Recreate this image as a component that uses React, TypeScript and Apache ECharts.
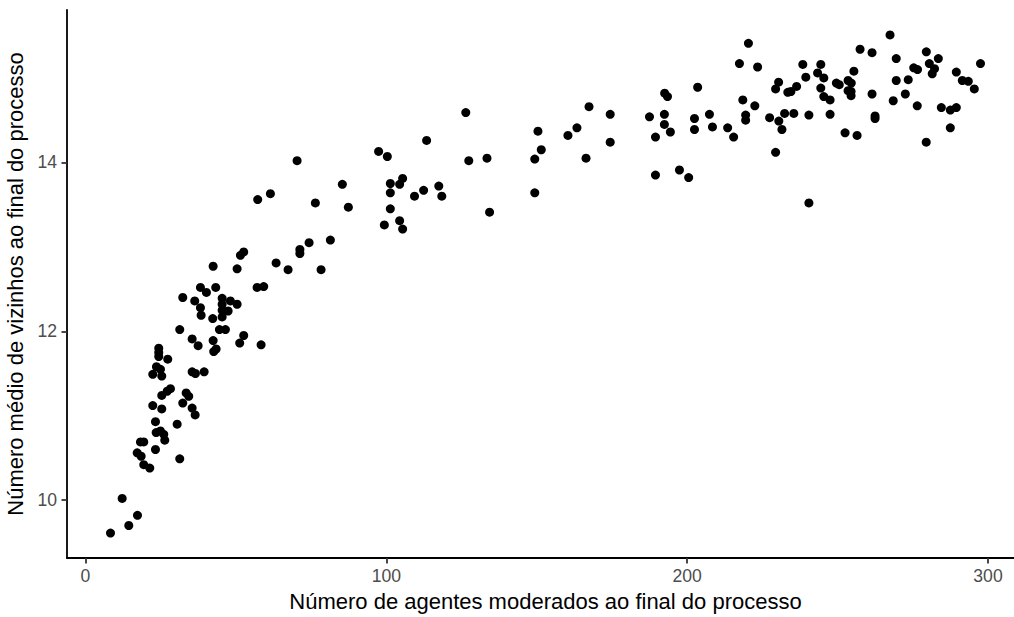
import React, { useEffect, useRef } from "react";
import * as echarts from "echarts";

const xTicks = [0, 100, 200, 300];
const yTicks = [10, 12, 14];

const xTitle = "Número de agentes moderados ao final do processo";
const yTitle = "Número médio de vizinhos ao final do processo";

const moderados = [
  8.31, 12.19, 14.39, 17.28, 17.18, 18.5, 19.37, 21.36, 18.27, 19.37,
  23.26, 31.33, 23.49, 24.92, 26.01, 26.35, 23.26, 30.47, 22.36, 25.35,
  32.33, 35.45, 36.45, 28.24, 27.14, 25.35, 33.46, 34.32, 23.59, 24.92,
  22.36, 25.35, 35.45, 36.54, 39.44, 24.35, 24.35, 24.35, 27.34, 42.62,
  43.42, 42.43, 35.45, 37.44, 52.59, 51.26, 58.37, 31.33, 44.52, 46.51,
  42.29, 32.33, 36.31, 38.21, 38.44, 45.42, 45.42, 45.42, 45.42, 48.17,
  50.4, 47.41, 38.21, 40.2, 43.29, 57.04, 59.24, 42.43, 50.4, 52.59,
  51.5, 63.36, 67.34, 57.24, 61.46, 70.33, 71.26, 71.26, 74.32, 78.31,
  81.4, 76.41, 85.38, 87.38, 100.33, 97.44, 101.33, 104.42, 105.42, 101.33,
  101.33, 99.34, 104.42, 105.42, 109.37, 112.39, 117.44, 118.44, 113.39, 126.41,
  127.41, 133.46, 134.32, 150.4, 151.5, 149.34, 149.34, 160.37, 163.36, 167.38,
  166.38, 174.42, 174.42, 187.48, 189.47, 189.47, 192.52, 193.46, 192.43, 192.43,
  194.42, 197.44, 200.5, 203.49, 202.43, 202.43, 207.41, 208.41, 213.46, 215.45,
  217.38, 220.37, 223.42, 218.5, 219.44, 219.44, 222.49, 227.41, 229.4, 230.4,
  229.4, 230.47, 231.5, 233.46, 234.49, 236.38, 232.39, 235.45, 240.47, 238.44,
  239.44, 240.47, 244.42, 243.36, 245.42, 244.42, 245.42, 247.51, 247.51, 249.6,
  250.56, 252.49, 256.48, 257.48, 261.46, 255.42, 253.49, 254.55, 253.49, 254.49,
  254.49, 261.46, 262.46, 262.46, 267.44, 269.5, 269.5, 273.49, 268.5, 272.52,
  275.32, 276.58, 279.5, 280.5, 283.49, 282.23, 281.46, 276.48, 279.47, 284.49,
  287.48, 289.47, 287.48, 289.47, 291.46, 293.46, 295.45, 297.51,
];

const vizinhos = [
  9.61, 10.02, 9.7, 9.82, 10.56, 10.52, 10.42, 10.38, 10.69, 10.69,
  10.6, 10.49, 10.8, 10.82, 10.78, 10.71, 10.93, 10.9, 11.12, 11.08,
  11.15, 11.09, 11.01, 11.32, 11.29, 11.24, 11.27, 11.23, 11.58, 11.55,
  11.49, 11.47, 11.52, 11.5, 11.52, 11.8, 11.75, 11.7, 11.67, 11.76,
  11.79, 11.89, 11.91, 11.83, 11.95, 11.86, 11.84, 12.02, 12.02, 12.02,
  12.15, 12.4, 12.36, 12.28, 12.19, 12.39, 12.32, 12.25, 12.17, 12.36,
  12.32, 12.24, 12.52, 12.46, 12.52, 12.52, 12.53, 12.77, 12.74, 12.94,
  12.9, 12.81, 12.73, 13.56, 13.63, 14.02, 12.97, 12.92, 13.05, 12.73,
  13.08, 13.52, 13.74, 13.47, 14.07, 14.13, 13.75, 13.74, 13.81, 13.64,
  13.45, 13.26, 13.31, 13.21, 13.6, 13.67, 13.72, 13.6, 14.26, 14.59,
  14.02, 14.05, 13.41, 14.37, 14.15, 14.04, 13.64, 14.32, 14.41, 14.66,
  14.05, 14.57, 14.24, 14.54, 14.3, 13.85, 14.82, 14.78, 14.57, 14.45,
  14.36, 13.91, 13.82, 14.89, 14.52, 14.39, 14.57, 14.42, 14.41, 14.3,
  15.17, 15.41, 15.13, 14.74, 14.56, 14.5, 14.67, 14.53, 14.12, 14.95,
  14.87, 14.49, 14.39, 14.83, 14.84, 14.9, 14.58, 14.58, 13.52, 15.16,
  15.01, 14.56, 15.16, 15.06, 15.0, 14.88, 14.78, 14.74, 14.57, 14.94,
  14.92, 14.35, 14.32, 15.34, 15.3, 15.08, 14.97, 14.94, 14.85, 14.84,
  14.79, 14.81, 14.55, 14.52, 15.51, 15.23, 14.97, 14.98, 14.73, 14.81,
  15.12, 15.1, 15.31, 15.17, 15.23, 15.11, 15.05, 14.67, 14.24, 14.65,
  14.62, 14.65, 14.41, 15.07, 14.97, 14.96, 14.87, 15.17,
];

const FONT = "'Liberation Sans', Arial, sans-serif";

export default function App() {
  const ref = useRef<HTMLDivElement>(null);

  useEffect(() => {
    if (!ref.current) return;
    const chart = echarts.init(ref.current, null, { renderer: "svg" });
    const points = moderados.map((x, i) => [x, vizinhos[i]]);
    const axisCommon = {
      type: "value" as const,
      nameLocation: "middle" as const,
      nameTextStyle: { color: "#000000", fontSize: 22, fontFamily: FONT },
      splitLine: { show: false },
      axisLine: { show: true, onZero: false, lineStyle: { color: "#000000", width: 1.8 } },
      axisTick: { show: true, length: 5.5, lineStyle: { color: "#333333", width: 1.8 } },
    };
    chart.setOption({
      animation: false,
      backgroundColor: "#ffffff",
      grid: { left: 67, top: 10, width: 957, height: 548, outerBoundsMode: "none", containLabel: false },
      xAxis: {
        ...axisCommon,
        name: xTitle,
        nameGap: 32,
        min: -6.15,
        max: 311.97,
        axisTick: { ...axisCommon.axisTick, customValues: xTicks },
        axisLabel: {
          customValues: xTicks,
          color: "#4D4D4D",
          fontSize: 17.6,
          fontFamily: FONT,
          margin: 9,
          showMinLabel: true,
          showMaxLabel: true,
        },
      },
      yAxis: {
        ...axisCommon,
        name: yTitle,
        nameGap: 36,
        nameRotate: 90,
        min: 9.315,
        max: 15.805,
        axisTick: { ...axisCommon.axisTick, customValues: yTicks },
        axisLabel: {
          customValues: yTicks,
          color: "#4D4D4D",
          fontSize: 17.6,
          fontFamily: FONT,
          margin: 10,
          showMinLabel: true,
          showMaxLabel: true,
        },
      },
      series: [
        {
          type: "scatter",
          data: points,
          symbol: "circle",
          symbolSize: 9,
          itemStyle: { color: "#000000", opacity: 1 },
          silent: true,
        },
      ],
    });
    return () => chart.dispose();
  }, []);

  return (
    <div
      ref={ref}
      style={{ position: "fixed", left: 0, top: 0, width: 1014, height: 617, background: "#fff" }}
    />
  );
}
